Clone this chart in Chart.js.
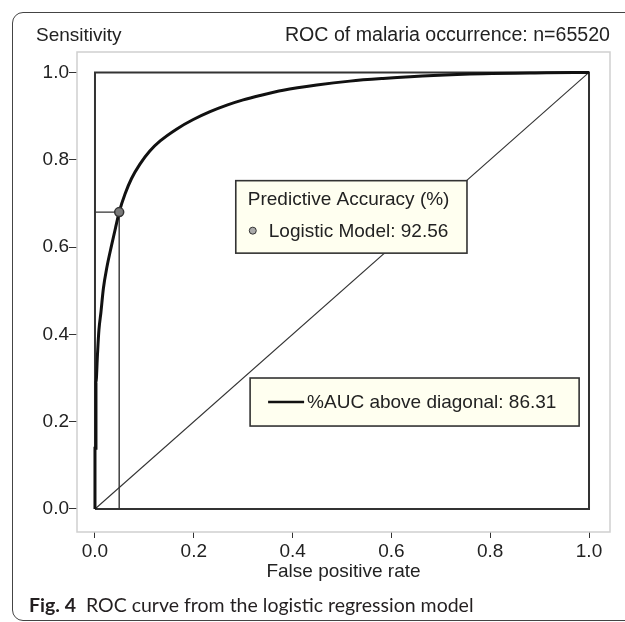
<!DOCTYPE html>
<html>
<head>
<meta charset="utf-8">
<script src="https://cdn.jsdelivr.net/npm/chart.js@4.4.1/dist/chart.umd.min.js"></script>
<style>
  html, body { margin: 0; padding: 0; background: #fff; }
  body { width: 625px; height: 622px; position: relative; overflow: hidden; }
  #frame { position: absolute; left: 12px; top: 12px; width: 640px; height: 607px; border: 1px solid #444; border-radius: 11px; }
  #chart { position: absolute; left: 0; top: 0; }
  #caption { position: absolute; left: 29px; top: 593px; font-family: Lato, "Noto Sans", sans-serif; font-size: 19.5px; line-height: 24px; color: #231f20; white-space: nowrap; }
  #caption b { margin-right: 5px; }
</style>
</head>
<body>
<div id="frame"></div>
<canvas id="chart" width="625" height="622"></canvas>
<div id="caption"><b>Fig. 4</b> ROC curve from the logistic regression model</div>
<script>
// ROC curve (false positive rate vs sensitivity)
const rocFpr = [0, 0, 0.002, 0.002, 0.005, 0.008, 0.012, 0.017, 0.024, 0.034, 0.042, 0.049, 0.061, 0.074, 0.091, 0.111, 0.132, 0.165, 0.199, 0.233, 0.267, 0.300, 0.334, 0.381, 0.449, 0.516, 0.583, 0.685, 0.786, 0.914, 1.0];
const rocTpr = [0, 0.139, 0.139, 0.289, 0.353, 0.410, 0.450, 0.505, 0.553, 0.606, 0.646, 0.680, 0.722, 0.757, 0.790, 0.820, 0.843, 0.870, 0.892, 0.910, 0.925, 0.937, 0.947, 0.959, 0.971, 0.980, 0.986, 0.993, 0.997, 0.999, 1.0];

// diagonal (chance line) and the unit box
const diagX = [0, 1];
const diagY = [0, 1];
const boxX = [0, 1, 1, 0, 0];
const boxY = [0, 0, 1, 1, 0];

// cut-off point and its guide lines
const cutX = [0, 0.049, 0.049];
const cutY = [0.68, 0.68, 0];
const cutPointX = [0.049];
const cutPointY = [0.68];

const tickValues = [0, 0.2, 0.4, 0.6, 0.8, 1.0];

const accuracyTitle = "Predictive Accuracy (%)";
const accuracyLabel = "Logistic Model: 92.56";
const aucLabel = "%AUC above diagonal: 86.31";

const toPoints = (xs, ys) => xs.map((x, i) => ({ x, y: ys[i] }));

const FONT = { family: "'Liberation Sans', Arial, sans-serif", size: 19 };
const TEXT = "#222";
const INK = "#333";

// axis limits so 0..1 sits inside the grey panel like in R
const xMin = -0.0364, xMax = 1.0425;
const yMin = -0.0527, yMax = 1.0467;

// legend boxes in data coords
const accBox = { x0: 0.285, x1: 0.753, y0: 0.752, y1: 0.586 };
const aucBox = { x0: 0.314, x1: 0.980, y0: 0.300, y1: 0.190 };

const decor = {
  id: "decor",
  beforeDatasetsDraw(chart) {
    const { ctx, chartArea: a } = chart;
    ctx.save();
    ctx.strokeStyle = "#cfcfcf";
    ctx.lineWidth = 1.5;
    ctx.strokeRect(a.left, a.top, a.right - a.left, a.bottom - a.top);
    ctx.restore();
  },
  afterDatasetsDraw(chart) {
    const { ctx } = chart;
    const sx = chart.scales.x, sy = chart.scales.y;
    const font = `${FONT.size}px ${FONT.family}`;

    ctx.save();
    ctx.font = font;
    ctx.fillStyle = TEXT;
    ctx.textBaseline = "middle";
    ctx.textAlign = "left";
    ctx.fillText("Sensitivity", 36, 36);
    ctx.textAlign = "right";
    ctx.font = `19.6px ${FONT.family}`;
    ctx.fillText("ROC of malaria occurrence: n=65520", 610, 36);
    ctx.font = font;

    const drawBox = b => {
      const l = sx.getPixelForValue(b.x0), r = sx.getPixelForValue(b.x1);
      const t = sy.getPixelForValue(b.y0), btm = sy.getPixelForValue(b.y1);
      ctx.fillStyle = "#fffff0";
      ctx.fillRect(l, t, r - l, btm - t);
      ctx.strokeStyle = INK;
      ctx.lineWidth = 1.6;
      ctx.strokeRect(l, t, r - l, btm - t);
      return { l, r, t, btm };
    };

    // predictive accuracy box
    const p = drawBox(accBox);
    ctx.fillStyle = TEXT;
    ctx.textAlign = "left";
    ctx.fillText(accuracyTitle, p.l + 12, p.t + 19);
    ctx.beginPath();
    ctx.arc(p.l + 17, p.t + 50, 3.5, 0, Math.PI * 2);
    ctx.fillStyle = "#aaa";
    ctx.fill();
    ctx.strokeStyle = INK;
    ctx.lineWidth = 1;
    ctx.stroke();
    ctx.fillStyle = TEXT;
    ctx.fillText(accuracyLabel, p.l + 33, p.t + 51);

    // AUC box
    const q = drawBox(aucBox);
    const cy = (q.t + q.btm) / 2;
    ctx.beginPath();
    ctx.moveTo(q.l + 18, cy);
    ctx.lineTo(q.l + 54, cy);
    ctx.strokeStyle = "#111";
    ctx.lineWidth = 2.5;
    ctx.stroke();
    ctx.fillStyle = TEXT;
    ctx.fillText(aucLabel, q.l + 57, cy + 1);
    ctx.restore();
  }
};

new Chart(document.getElementById("chart"), {
  type: "scatter",
  data: {
    datasets: [
      {
        data: toPoints(cutPointX, cutPointY),
        showLine: false,
        pointRadius: 4.5,
        pointBackgroundColor: "#7a7a7a",
        pointBorderColor: INK,
        pointBorderWidth: 1.5,
        order: 0
      },
      {
        data: toPoints(rocFpr, rocTpr),
        showLine: true,
        borderColor: "#111",
        borderWidth: 3,
        pointRadius: 0,
        cubicInterpolationMode: "monotone",
        order: 1
      },
      {
        data: toPoints(cutX, cutY),
        showLine: true,
        borderColor: INK,
        borderWidth: 1.4,
        pointRadius: 0,
        order: 2
      },
      {
        data: toPoints(diagX, diagY),
        showLine: true,
        borderColor: INK,
        borderWidth: 1.1,
        pointRadius: 0,
        order: 3
      },
      {
        data: toPoints(boxX, boxY),
        showLine: true,
        borderColor: INK,
        borderWidth: 2,
        pointRadius: 0,
        order: 4
      }
    ]
  },
  options: {
    responsive: false,
    animation: false,
    layout: { padding: { left: 0, top: 52, right: 15, bottom: 37 } },
    plugins: { legend: { display: false }, tooltip: { enabled: false } },
    scales: {
      x: {
        type: "linear",
        min: xMin,
        max: xMax,
        afterBuildTicks: s => { s.ticks = tickValues.map(v => ({ value: v })); },
        afterFit: s => { s.height = 53; },
        border: { display: false },
        grid: { drawOnChartArea: false, drawTicks: true, tickLength: 6, tickColor: INK, tickWidth: 1 },
        ticks: { font: FONT, color: TEXT, padding: 2, maxRotation: 0, autoSkip: false, callback: v => v.toFixed(1) },
        title: { display: true, text: "False positive rate", font: FONT, color: TEXT, padding: { top: 0, bottom: 2 } }
      },
      y: {
        type: "linear",
        min: yMin,
        max: yMax,
        afterBuildTicks: s => { s.ticks = tickValues.map(v => ({ value: v })); },
        afterFit: s => { s.width = 77; },
        border: { display: false },
        grid: { drawOnChartArea: false, drawTicks: true, tickLength: 8, tickColor: INK, tickWidth: 1 },
        ticks: { font: FONT, color: TEXT, padding: 0, autoSkip: false, callback: v => v.toFixed(1) }
      }
    }
  },
  plugins: [decor]
});
</script>
</body>
</html>
